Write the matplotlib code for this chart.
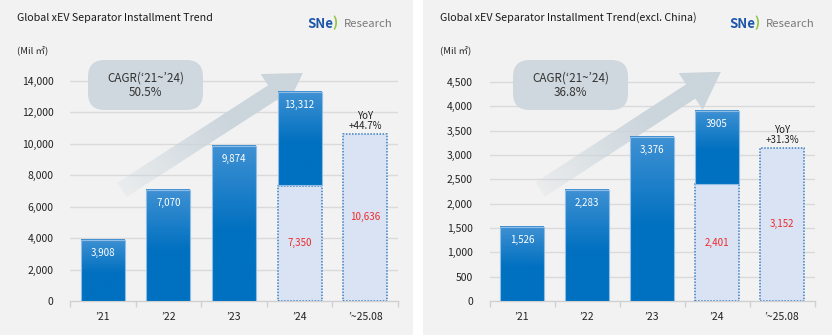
import numpy as np
import matplotlib
matplotlib.use("Agg")
import matplotlib.pyplot as plt
from matplotlib.patches import Rectangle, Polygon, FancyBboxPatch
from matplotlib.colors import to_rgb

plt.rcParams['font.family'] = ['Noto Sans CJK KR', 'DejaVu Sans']

# ---------------- data ----------------
categories = ['’21', '’22', '’23', '’24', '’~25.08']

global_values = [3908, 7070, 9874, 13312]
global_partial_24 = 7350
global_ytd_25 = 10636
global_yoy = '+44.7%'
global_cagr = '50.5%'
global_ticks = [0, 2000, 4000, 6000, 8000, 10000, 12000, 14000]

exchina_values = [1526, 2283, 3376, 3905]
exchina_partial_24 = 2401
exchina_ytd_25 = 3152
exchina_yoy = '+31.3%'
exchina_cagr = '36.8%'
exchina_ticks = [0, 500, 1000, 1500, 2000, 2500, 3000, 3500, 4000, 4500]

titles = ['Global xEV Separator Installment Trend',
          'Global xEV Separator Installment Trend(excl. China)']

# ---------------- figure ----------------
W, H = 832, 335
fig = plt.figure(figsize=(W / 100, H / 100), dpi=100)
fig.patch.set_facecolor('white')

BG = '#f2f2f2'
fig.add_artist(Rectangle((0, 0), 413 / W, 1, transform=fig.transFigure,
                         facecolor=BG, edgecolor='none', zorder=-10))
fig.add_artist(Rectangle((423 / W, 0), (W - 423) / W, 1, transform=fig.transFigure,
                         facecolor=BG, edgecolor='none', zorder=-10))

LIGHT = np.array(to_rgb('#3f91d3'))
DARK = np.array(to_rgb('#0070c0'))
BAR_W = 0.67
LBL = 7


def px_rect(x0, y_top, w, h):
    return [x0 / W, 1 - (y_top + h) / H, w / W, h / H]


def grad_bar(ax, x, y0, y1):
    n = 100
    h = np.linspace(0, 1, n)  # 0 = bottom, 1 = top
    depth = 1 - h            # 0 at top
    f = np.clip(depth / 0.55, 0, 1)[:, None]
    cols = LIGHT[None, :] * (1 - f) + DARK[None, :] * f
    img = cols[:, None, :]
    ax.imshow(img, extent=[x - BAR_W / 2, x + BAR_W / 2, y0, y1], origin='lower',
              aspect='auto', zorder=3, interpolation='bilinear')
    ax.add_patch(Rectangle((x - BAR_W / 2, y0), BAR_W, y1 - y0, facecolor='none',
                           edgecolor='#8fbde6', lw=0.8, zorder=4))


def light_bar(ax, x, y0, y1):
    ax.add_patch(Rectangle((x - BAR_W / 2, y0), BAR_W, y1 - y0, facecolor='#dae3f3',
                           edgecolor='#3a7fc4', lw=1.1, linestyle=(0, (1, 1)), zorder=3))


def grad_arrow(ax, start, end, shaft_px=17, head_w_px=44, head_len_px=36):
    fig.canvas.draw()
    T = ax.transData
    s = T.transform(start)
    e = T.transform(end)
    d = e - s
    L = np.hypot(*d)
    u = d / L
    nrm = np.array([-u[1], u[0]])
    hb = e - u * head_len_px
    pts = [s + nrm * shaft_px / 2, hb + nrm * shaft_px / 2, hb + nrm * head_w_px / 2, e,
           hb - nrm * head_w_px / 2, hb - nrm * shaft_px / 2, s - nrm * shaft_px / 2]
    pts_d = T.inverted().transform(np.array(pts))
    poly = Polygon(pts_d, closed=True, facecolor='none', edgecolor='none', zorder=1)
    ax.add_patch(poly)
    x0, y0 = pts_d.min(axis=0)
    x1, y1 = pts_d.max(axis=0)
    nx, ny = 200, 200
    gx = np.linspace(x0, x1, nx)
    gy = np.linspace(y0, y1, ny)
    GX, GY = np.meshgrid(gx, gy)
    disp = T.transform(np.column_stack([GX.ravel(), GY.ravel()]))
    tt = ((disp - s) @ u) / L
    tt = np.clip(tt, 0, 1).reshape(ny, nx)
    col = np.array(to_rgb('#cbd5dc'))
    alpha = 0.2 + 0.8 * np.clip(tt / 0.6, 0, 1)
    img = np.zeros((ny, nx, 4))
    img[..., :3] = col
    img[..., 3] = alpha
    im = ax.imshow(img, extent=[x0, x1, y0, y1], origin='lower', aspect='auto',
                   zorder=1, interpolation='bilinear')
    im.set_clip_path(poly)


def make_panel(rect, values, partial, ytd, yoy, cagr, ticks, ytop, tick_fmt,
               arrow_start, arrow_end, box_px, title, title_px, logo_px, unit_px):
    ax = fig.add_axes(rect)
    ax.set_facecolor('none')
    ax.set_xlim(-0.5, 4.5)
    ax.set_ylim(0, ytop)
    for sp in ['top', 'right', 'left']:
        ax.spines[sp].set_visible(False)
    ax.spines['bottom'].set_color('#d0d0d0')
    ax.spines['bottom'].set_linewidth(1.0)
    ax.set_yticks(ticks)
    ax.set_yticklabels([tick_fmt(v) for v in ticks], fontsize=7.5, color='#222222')
    ax.tick_params(axis='y', length=0, pad=12)
    for v in ticks[1:]:
        ax.axhline(v, color='#dadada', lw=1.0, zorder=0)
    x = np.arange(len(categories))
    ax.set_xticks(x)
    ax.set_xticklabels(categories, fontsize=7.5, color='#222222')
    ax.tick_params(axis='x', length=0, pad=8)
    ax.set_xticks(np.arange(-0.5, 5.0, 1.0), minor=True)
    ax.tick_params(axis='x', which='minor', length=4, color='#d0d0d0', width=1.0)

    # bars
    for i in range(3):
        grad_bar(ax, x[i], 0, values[i])
        ax.text(x[i], values[i] - ytop * 0.055, f'{values[i]:,}', ha='center',
                va='center', color='white', fontsize=LBL, zorder=6)
    light_bar(ax, x[3], 0, partial)
    grad_bar(ax, x[3], partial, values[3])
    lab24 = f'{values[3]:,}' if values[3] > 10000 else f'{values[3]}'
    ax.text(x[3], values[3] - ytop * 0.055, lab24, ha='center', va='center',
            color='white', fontsize=LBL, zorder=6)
    ax.text(x[3], partial / 2, f'{partial:,}', ha='center', va='center',
            color='#ee2a2a', fontsize=LBL, zorder=6)
    light_bar(ax, x[4], 0, ytd)
    ax.text(x[4], ytd / 2, f'{ytd:,}', ha='center', va='center',
            color='#ee2a2a', fontsize=LBL, zorder=6)
    ax.text(x[4], ytd + ytop * 0.012, f'YoY\n{yoy}', ha='center', va='bottom',
            color='#222222', fontsize=7, linespacing=1.0, zorder=6)

    ax.set_xlim(-0.5, 4.5)
    ax.set_ylim(0, ytop)
    grad_arrow(ax, arrow_start, arrow_end)
    ax.set_xlim(-0.5, 4.5)
    ax.set_ylim(0, ytop)

    # CAGR box (figure pixels)
    bx, by, bw, bh = box_px
    fig.add_artist(FancyBboxPatch((bx / W, 1 - (by + bh) / H), bw / W, bh / H,
                                  boxstyle='round,pad=0,rounding_size=0.02',
                                  transform=fig.transFigure, facecolor='#cfd8de',
                                  edgecolor='none', zorder=5, mutation_aspect=W / H))
    fig.text((bx + bw / 2) / W, 1 - (by + bh / 2) / H, f'CAGR(‘21~’24)\n{cagr}',
             ha='center', va='center', fontsize=8.4, color='#333333', linespacing=1.15,
             zorder=6)

    # titles
    fig.text(title_px[0] / W, 1 - title_px[1] / H, title, ha='left', va='center',
             fontsize=7.7, color='#1a1a1a')
    fig.text(unit_px[0] / W, 1 - unit_px[1] / H, '(Mil ㎡)', ha='left', va='center',
             fontsize=6.8, color='#222222')
    lx, ly = logo_px
    fig.text(lx / W, 1 - ly / H, 'SNe', ha='left', va='center', fontsize=9.5,
             fontweight='bold', color='#1d56a8')
    fig.text((lx + 25) / W, 1 - (ly - 1) / H, ')', ha='left', va='center', fontsize=10,
             fontweight='bold', color='#8cc63f')
    fig.text((lx + 37) / W, 1 - ly / H, 'Research', ha='left', va='center', fontsize=8.2,
             color='#7a7a7a')
    return ax


# left panel: y0 at px 301, 14000 at px 81 -> ylim top 15400 at px 59
make_panel(px_rect(70, 59, 328, 242), global_values, global_partial_24, global_ytd_25,
           global_yoy, global_cagr, global_ticks, 15400, lambda v: f'{v:,}',
           (0.29, 7065), (3.05, 14510), (88, 60, 115, 50), titles[0], (17, 18),
           (307, 24), (17, 50))

# right panel: 0 at px 301, 4500 at 82 -> ylim top 4950 at ~60
make_panel(px_rect(489.5, 60, 325, 241), exchina_values, exchina_partial_24,
           exchina_ytd_25, exchina_yoy, exchina_cagr, exchina_ticks, 4950,
           lambda v: f'{v:,}', (0.28, 2290), (3.06, 4707), (513, 60, 115, 50),
           titles[1], (440, 18), (729, 24), (440, 50))

fig.savefig('out.png', dpi=100, facecolor=fig.get_facecolor())
